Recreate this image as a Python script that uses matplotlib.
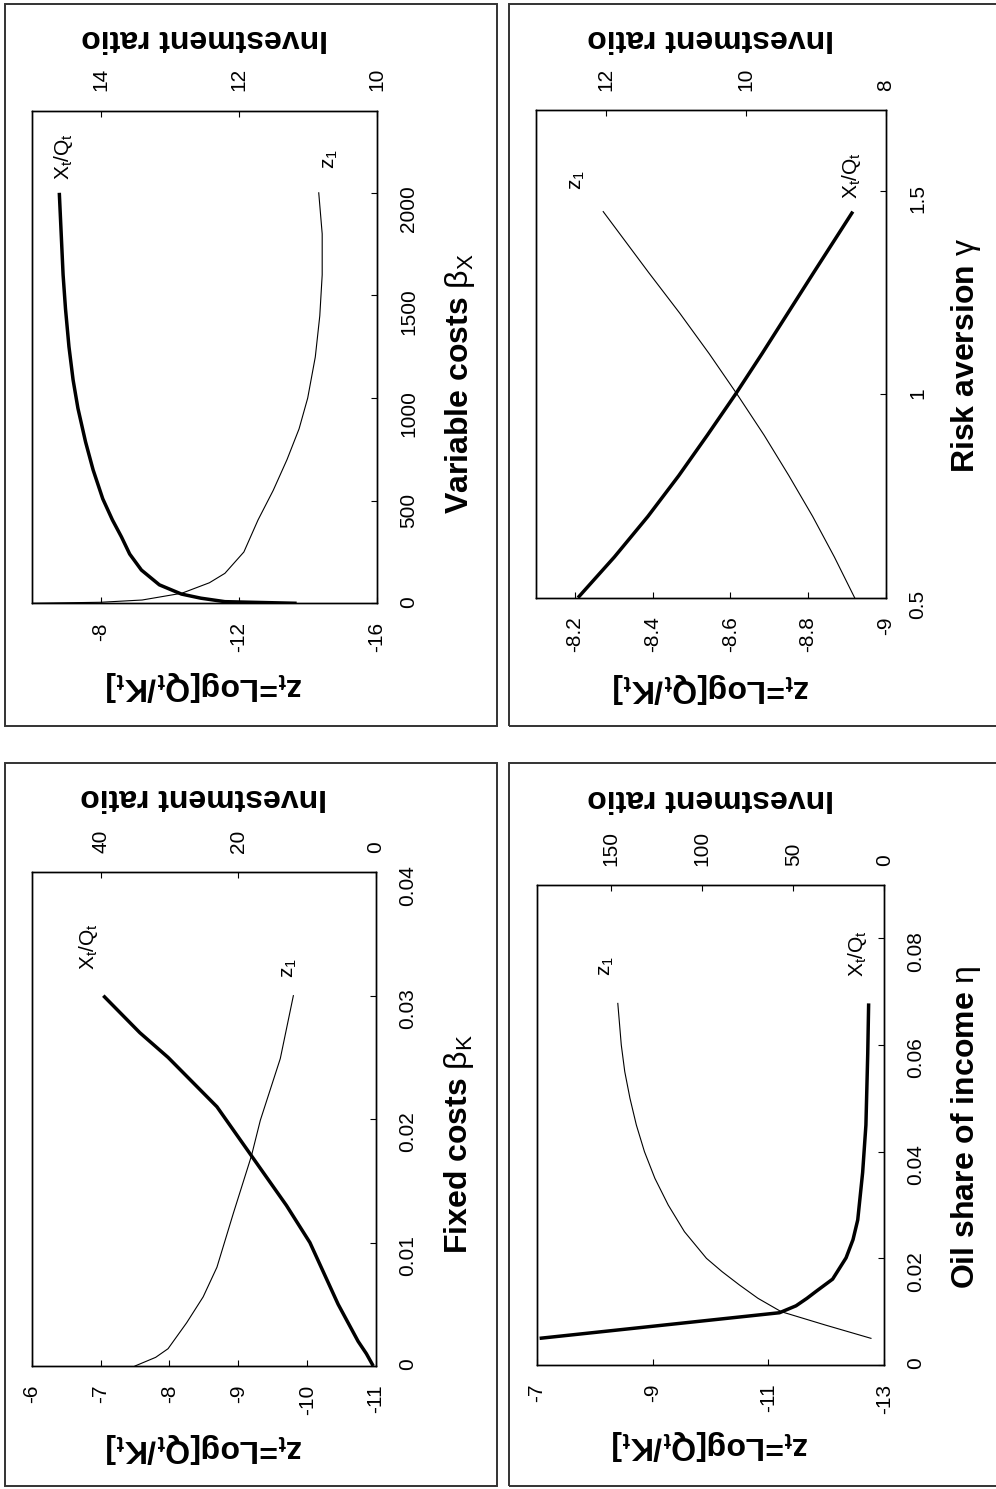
import matplotlib
matplotlib.use('Agg')
import matplotlib.pyplot as plt
from matplotlib.patches import Rectangle

plt.rcParams['font.family'] = ['Liberation Sans', 'DejaVu Sans']
plt.rcParams['mathtext.fontset'] = 'custom'
plt.rcParams['mathtext.rm'] = 'Liberation Sans'
plt.rcParams['mathtext.it'] = 'Liberation Sans:italic'
plt.rcParams['mathtext.bf'] = 'Liberation Sans:bold'
plt.rcParams['axes.unicode_minus'] = False

# --- variable costs beta_X
var_beta_z = [0, 5, 16, 49, 100, 146, 250, 406, 550, 700, 850, 1000, 1200, 1400, 1600, 1800, 2000]
var_z1 = [-6.0, -8.0, -9.2, -10.35, -11.15, -11.6, -12.15, -12.56, -13.0, -13.4, -13.75,
          -14.0, -14.22, -14.35, -14.42, -14.42, -14.32]
var_beta_r = [0, 8, 25, 45, 90, 162, 240, 324, 406, 509, 650, 787, 950, 1088, 1250, 1434,
              1600, 1782, 2000]
var_ratio = [11.16, 12.2, 12.55, 12.83, 13.15, 13.41, 13.58, 13.70, 13.83, 13.97, 14.11,
             14.22, 14.33, 14.40, 14.46, 14.51, 14.545, 14.57, 14.60]

# --- risk aversion gamma
risk_gamma_z = [0.5, 0.6, 0.7, 0.8, 0.9, 1.0, 1.1, 1.2, 1.3, 1.45]
risk_z1 = [-8.92, -8.868, -8.812, -8.751, -8.687, -8.618, -8.546, -8.47, -8.39, -8.273]
risk_gamma_r = [0.5, 0.6, 0.7, 0.8, 0.9, 1.0, 1.1, 1.2, 1.3, 1.45]
risk_ratio = [12.40, 11.88, 11.40, 10.96, 10.55, 10.15, 9.77, 9.40, 9.03, 8.47]

# --- fixed costs beta_K
fix_beta_z = [0, 0.0007, 0.0014, 0.0035, 0.0056, 0.008, 0.0124, 0.017, 0.0199, 0.0249, 0.030]
fix_z1 = [-7.5, -7.8, -7.98, -8.25, -8.49, -8.69, -8.93, -9.19, -9.32, -9.61, -9.80]
fix_beta_r = [0, 0.001, 0.002, 0.005, 0.010, 0.013, 0.017, 0.021, 0.025, 0.027, 0.030]
fix_ratio = [0.4, 1.4, 2.6, 5.5, 9.6, 13.0, 18.05, 23.1, 30.2, 34.3, 39.6]

# --- oil share of income eta
oil_eta_z = [0.005, 0.0075, 0.01, 0.0125, 0.015, 0.0175, 0.02, 0.025, 0.03, 0.035, 0.04,
             0.045, 0.05, 0.055, 0.06, 0.0678]
oil_z1 = [-12.77, -11.98, -11.22, -10.82, -10.5, -10.2, -9.93, -9.55, -9.27, -9.04, -8.86,
          -8.72, -8.61, -8.52, -8.46, -8.40]
oil_eta_r = [0.005, 0.0074, 0.0098, 0.0111, 0.0125, 0.0138, 0.0161, 0.0201, 0.0235, 0.0272,
             0.0361, 0.045, 0.0584, 0.0678]
oil_ratio = [189.4, 123.5, 57.6, 48.5, 42.5, 37.5, 28.4, 21.0, 17.2, 14.6, 11.9, 10.1, 9.1, 8.6]

W, H = 996, 1489
fig = plt.figure(figsize=(W / 100, H / 100), dpi=100)


def rect(l, t, r, b):
    return [l / W, 1 - b / H, (r - l) / W, (b - t) / H]


def ftext(x, y, s, **kw):
    fig.text(x / W, 1 - y / H, s, ha='center', va='center', **kw)


ZLAB = r'z$_\mathbf{t}$=Log[Q$_\mathbf{t}$/K$_\mathbf{t}$]'


def panel(axbox, border, zlim, zticks, zlabels, rlim, rticks, plim, pticks, plabels,
          pz, z1, pr, ratio, plabel, lab_pos, z1_txt, xq_txt):
    fig.add_artist(Rectangle((border[0] / W, 1 - border[3] / H),
                             (border[2] - border[0]) / W, (border[3] - border[1]) / H,
                             transform=fig.transFigure, fill=False,
                             edgecolor='#333333', lw=1.4))
    ax = fig.add_axes(rect(*axbox))
    ax.plot(z1, pz, color='black', lw=0.8)
    ax.set_xlim(zlim)
    ax.set_ylim(plim)
    ax.set_xticks(zticks)
    ax.set_xticklabels(zlabels)
    ax.set_yticks(pticks)
    ax.set_yticklabels(plabels)
    ax.tick_params(axis='x', direction='in', length=4.5, width=0.8, pad=13.5,
                   labelsize=15, labelrotation=90, top=False, bottom=True)
    ax.tick_params(axis='y', direction='in', length=4.5, width=0.8, pad=16,
                   labelsize=15, labelrotation=90, left=False, right=True,
                   labelleft=False, labelright=True)
    ax.text(z1_txt[0], z1_txt[1], r'z$_\mathregular{1}$', rotation=90,
            ha='center', va='center', fontsize=15)

    ax2 = ax.twiny()
    ax2.plot(ratio, pr, color='black', lw=2.5, solid_capstyle='butt')
    ax2.set_xlim(rlim)
    ax2.set_xticks(rticks)
    ax2.set_xticklabels([str(v) for v in rticks])
    ax2.tick_params(axis='x', direction='in', length=4.5, width=0.8, pad=14,
                    labelsize=15, labelrotation=90, bottom=False, top=True)
    ax2.text(xq_txt[0], xq_txt[1], r'X$_\mathregular{t}$/Q$_\mathregular{t}$',
             rotation=90, ha='center', va='center', fontsize=15)
    for a in (ax, ax2):
        for sp in a.spines.values():
            sp.set_linewidth(1.0)

    (bx, by), (tx, ty), (rx, ry) = lab_pos
    ftext(bx, by, ZLAB, rotation=180, fontsize=23, fontweight='bold')
    ftext(tx, ty, 'Investment ratio', rotation=180, fontsize=23, fontweight='bold')
    ftext(rx, ry, plabel, rotation=90, fontsize=23, fontweight='bold')


panel((31.7, 110.7, 376.7, 603.3), (4.5, 3.5, 497, 725.5),
      (-6, -16), [-8, -12, -16], ['-8', '-12', '-16'],
      (15, 10), [14, 12, 10],
      (0, 2400), [0, 500, 1000, 1500, 2000], ['0', '500', '1000', '1500', '2000'],
      var_beta_z, var_z1, var_beta_r, var_ratio,
      r'Variable costs $\mathrm{\beta_X}$',
      ((204.2, 686), (204.2, 38), (460, 383)),
      (-14.65, 2164), (14.54, 2175))

panel((536, 110, 885.7, 597.7), (509, 3.5, 1005, 725.5),
      (-8.1, -9.0), [-8.2, -8.4, -8.6, -8.8, -9.0], ['-8.2', '-8.4', '-8.6', '-8.8', '-9'],
      (13, 8), [12, 10, 8],
      (0.5, 1.7), [0.5, 1.0, 1.5], ['0.5', '1', '1.5'],
      risk_gamma_z, risk_z1, risk_gamma_r, risk_ratio,
      r'Risk aversion $\mathrm{\gamma}$',
      ((710.8, 688), (710.8, 37.5), (966, 356)),
      (-8.208, 1.528), (8.49, 1.539))

panel((31.7, 872.2, 376, 1366), (4.5, 763, 497, 1486),
      (-6, -11), [-6, -7, -8, -9, -10, -11], ['-6', '-7', '-8', '-9', '-10', '-11'],
      (50, 0), [40, 20, 0],
      (0, 0.04), [0, 0.01, 0.02, 0.03, 0.04], ['0', '0.01', '0.02', '0.03', '0.04'],
      fix_beta_z, fix_z1, fix_beta_r, fix_ratio,
      r'Fixed costs $\mathrm{\beta_K}$',
      ((204, 1448), (204, 797), (459, 1144)),
      (-9.75, 0.0322), (41.8, 0.0340))

panel((536.7, 885, 884.3, 1365), (509, 763, 1005, 1486),
      (-7, -13), [-7, -9, -11, -13], ['-7', '-9', '-11', '-13'],
      (191, 0), [150, 100, 50, 0],
      (0, 0.09), [0, 0.02, 0.04, 0.06, 0.08], ['0', '0.02', '0.04', '0.06', '0.08'],
      oil_eta_z, oil_z1, oil_eta_r, oil_ratio,
      r'Oil share of income $\mathrm{\eta}$',
      ((710.5, 1445.5), (710.5, 798.5), (966, 1127)),
      (-8.20, 0.0749), (14.6, 0.0772))

fig.savefig('out.png', dpi=100)
